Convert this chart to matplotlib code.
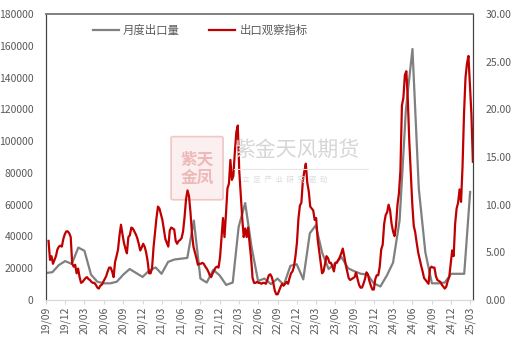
import matplotlib
matplotlib.use('Agg')
import matplotlib.pyplot as plt
import matplotlib.dates as mdates
from matplotlib.patches import FancyBboxPatch
import pandas as pd

plt.rcParams['font.family'] = ['Noto Sans CJK SC', 'DejaVu Sans']

# monthly export volume (left axis), 2019-09 .. 2025-03
export_monthly = [17000, 17500, 22000, 24500,
                  22700, 33000, 31000, 16000, 11500, 10500, 10500, 11500, 16000, 19500, 17000, 14500,
                  18500, 20500, 16500, 24000, 25500, 26000, 26500, 50000, 13500, 11000, 19000, 15500,
                  9500, 11000, 46000, 61000, 33500, 12000, 13500, 10000, 13500, 9500, 21500, 22500,
                  13000, 42000, 47000, 29500, 19500, 23000, 27000, 20000, 18000, 16500, 16000, 10500,
                  8500, 15500, 23500, 50000, 120000, 158000, 70000, 30000, 10500, 10500, 11000, 16500,
                  16500, 16500, 68000]

# weekly export observation indicator (right axis)
export_index = [6.2, 4.2, 4.6, 3.8, 4.2, 4.6, 5.3, 5.6, 5.7, 5.6,
                6.4, 6.9, 7.2, 7.2, 7.0, 6.6, 3.8, 3.5, 3.7, 2.8,
                3.3, 2.4, 1.8, 1.9, 2.1, 2.3, 2.4, 2.2, 2.1, 1.9,
                1.8, 1.8, 1.6, 1.3, 1.2, 1.5, 1.6, 1.9, 2.2, 2.5,
                3.0, 3.4, 3.4, 3.0, 2.4, 4.0, 4.6, 5.3, 6.8, 7.9,
                6.9, 6.0, 5.4, 4.9, 6.6, 6.8, 7.6, 7.5, 7.2, 6.9,
                6.5, 5.9, 5.2, 5.5, 5.9, 5.6, 5.0, 4.1, 2.8, 2.8,
                3.3, 5.5, 7.0, 8.6, 9.8, 9.6, 9.0, 8.4, 7.4, 6.4,
                6.0, 5.6, 7.3, 7.6, 7.5, 7.4, 6.2, 5.9, 6.2, 6.3,
                6.5, 7.2, 8.7, 10.6, 11.5, 10.9, 9.2, 7.0, 5.6, 5.0,
                4.4, 3.7, 3.8, 3.8, 3.9, 3.8, 3.5, 3.3, 3.0, 2.6,
                2.4, 2.8, 3.1, 3.4, 3.5, 3.4, 4.5, 6.6, 8.6, 6.6,
                9.0, 11.7, 12.2, 14.7, 12.6, 13.0, 15.5, 17.6, 18.3, 13.5,
                11.0, 8.6, 6.6, 7.5, 6.6, 7.6, 5.9, 4.4, 2.3, 1.8,
                1.8, 1.9, 1.8, 1.8, 1.7, 1.8, 1.8, 1.7, 2.1, 2.6,
                2.7, 2.4, 1.8, 1.0, 0.6, 0.6, 1.0, 1.4, 1.7, 1.5,
                1.7, 1.9, 1.7, 2.3, 2.8, 3.0, 3.5, 4.6, 6.0, 8.5,
                9.9, 10.2, 12.5, 13.5, 14.3, 12.3, 11.4, 9.8, 9.6, 9.4,
                8.4, 8.6, 6.4, 5.2, 4.0, 2.8, 3.0, 3.8, 4.6, 4.4,
                3.9, 3.9, 3.5, 3.0, 3.9, 3.9, 4.2, 4.5, 4.9, 5.4,
                4.6, 3.7, 3.0, 2.3, 2.1, 2.2, 2.3, 2.4, 2.9, 2.2,
                1.6, 1.3, 1.3, 1.7, 2.2, 2.9, 2.7, 2.0, 1.5, 1.1,
                1.1, 2.2, 2.6, 2.6, 3.5, 5.3, 5.8, 8.0, 8.9, 9.2,
                10.0, 9.4, 8.0, 7.2, 6.7, 7.8, 10.0, 11.2, 13.6, 20.4,
                21.2, 23.6, 24.0, 21.0, 16.6, 13.4, 10.1, 7.8, 7.1, 6.0,
                5.0, 4.3, 3.6, 3.0, 2.3, 2.1, 1.9, 1.7, 3.3, 3.5,
                3.4, 3.4, 2.5, 2.1, 2.0, 1.9, 1.6, 1.4, 1.2, 1.4,
                2.0, 2.4, 3.8, 5.2, 4.6, 8.0, 9.6, 10.2, 11.6, 10.3,
                14.0, 19.5, 23.3, 24.8, 25.6, 22.5, 19.5, 14.5]

monthly_dates = pd.date_range('2019-09-01', periods=len(export_monthly), freq='MS')
weekly_dates = pd.date_range('2019-09-13', periods=len(export_index), freq='7D')

fig = plt.figure(figsize=(5.14, 3.45), dpi=100)
ax = fig.add_axes([0.0895, 0.1304, 0.8305, 0.829])
ax2 = ax.twinx()

# watermark
seal = FancyBboxPatch((0.337, 0.425), 0.093, 0.175, boxstyle='round,pad=0.004',
                      transform=fig.transFigure, facecolor='#fcefef', edgecolor='#f0c6c6',
                      lw=1.2, zorder=0)
fig.patches.append(seal)
fig.text(0.384, 0.512, '紫天\n金凤', color='#edb9b9', fontsize=12, ha='center', va='center',
         linespacing=1.0, fontweight='bold', zorder=0)
fig.text(0.455, 0.565, '紫金天风期货', color='#d6d6d6', fontsize=15, ha='left', va='center')
fig.add_artist(plt.Line2D([0.455, 0.715], [0.51, 0.51], color='#e6e6e6', lw=0.8,
                          transform=fig.transFigure))
fig.text(0.47, 0.478, '立  足  产  业  研  究  驱  动', color='#dcdcdc', fontsize=5.5,
         ha='left', va='center')

l1, = ax.plot(monthly_dates, export_monthly, color='#808080', lw=1.6, label='月度出口量')
l2, = ax2.plot(weekly_dates, export_index, color='#c00000', lw=1.6, label='出口观察指标')

ax.set_xlim(monthly_dates[0], weekly_dates[-1])
ax.set_ylim(0, 180000)
ax.set_yticks(range(0, 180001, 20000))
ax2.set_ylim(0, 30)
ax2.set_yticks(range(0, 31, 5))
ax2.yaxis.set_major_formatter(lambda v, p: f'{v:.2f}')

ax.xaxis.set_major_locator(mdates.MonthLocator(bymonth=[3, 6, 9, 12]))
ax.xaxis.set_major_formatter(mdates.DateFormatter('%y/%m'))
ax.tick_params(axis='x', rotation=90, labelsize=7.5, colors='#595959', length=3,
               color='#d9d9d9', pad=2)
ax.tick_params(axis='y', length=0, labelsize=7.5, colors='#595959', pad=9)
ax2.tick_params(axis='y', length=0, labelsize=7.5, colors='#595959', pad=9)

for a in (ax, ax2):
    a.spines['top'].set_color('#808080')
    a.spines['top'].set_linewidth(1.2)
    a.spines['left'].set_color('#404040')
    a.spines['right'].set_color('#404040')
    a.spines['bottom'].set_color('#d9d9d9')
ax.set_facecolor('none')
ax2.set_zorder(ax.get_zorder() + 1)

ax.legend([l1, l2], ['月度出口量', '出口观察指标'], loc='upper left',
          bbox_to_anchor=(0.085, 1.0), ncol=2, frameon=False, fontsize=8.2,
          labelcolor='#595959', handlelength=2.3, columnspacing=2.6, handletextpad=0.35)

fig.savefig('out.png', dpi=100)
